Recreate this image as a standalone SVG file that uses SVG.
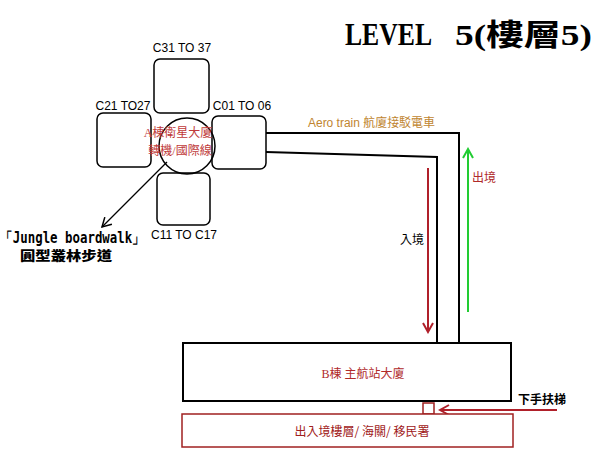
<svg xmlns="http://www.w3.org/2000/svg" width="600" height="450" viewBox="0 0 600 450">
<style>
.gate{fill:#fff;stroke:#000;stroke-width:1.5}
.lbl{font-family:"Liberation Sans",Arial,sans-serif;font-size:12px;fill:#000}
.cjk{font-family:"Liberation Serif","Noto Sans CJK TC",serif}
.line{fill:none;stroke:#000;stroke-width:2}
</style>
<defs>
<marker id="ablk" markerWidth="12" markerHeight="12" refX="10" refY="6" orient="auto" markerUnits="userSpaceOnUse"><path d="M1,1 L10,6 L1,11" fill="none" stroke="#000" stroke-width="1.5"/></marker>
<marker id="ared" markerWidth="12" markerHeight="12" refX="10" refY="6" orient="auto" markerUnits="userSpaceOnUse"><path d="M1,1 L10,6 L1,11" fill="none" stroke="#b0202a" stroke-width="2"/></marker>
<marker id="agrn" markerWidth="12" markerHeight="12" refX="10" refY="6" orient="auto" markerUnits="userSpaceOnUse"><path d="M1,1 L10,6 L1,11" fill="none" stroke="#22cc33" stroke-width="2"/></marker>
</defs>
<rect width="600" height="450" fill="#fff"/>

<g id="title">
<text x="345" y="45" font-family="Liberation Serif,serif" font-weight="bold" font-size="32" textLength="87" lengthAdjust="spacingAndGlyphs">LEVEL</text>
<text x="455" y="45" font-family="Liberation Serif,'Noto Sans CJK TC',serif" font-weight="bold" font-size="30" textLength="137" lengthAdjust="spacingAndGlyphs">5(樓層5)</text>
</g>

<g id="connectors">
<path class="line" d="M266,133 H459 V343"/>
<path class="line" d="M266,152 L437,157 V343"/>
<line x1="167" y1="162" x2="102" y2="227" stroke="#000" stroke-width="1.3" marker-end="url(#ablk)"/>
<line x1="428" y1="168" x2="428" y2="332" stroke="#b0202a" stroke-width="2" marker-end="url(#ared)"/>
<line x1="468" y1="312" x2="468" y2="149" stroke="#22cc33" stroke-width="2" marker-end="url(#agrn)"/>
<line x1="557" y1="410" x2="440" y2="410" stroke="#b0202a" stroke-width="2" marker-end="url(#ared)"/>
</g>

<g id="gateC31">
<rect class="gate" x="154" y="59" width="55" height="54" rx="6"/>
<text class="lbl" x="182" y="52" text-anchor="middle">C31 TO 37</text>
</g>
<g id="gateC21">
<rect class="gate" x="97" y="113" width="54" height="54" rx="6"/>
<text class="lbl" x="123" y="110" text-anchor="middle">C21 TO27</text>
</g>
<g id="gateC01">
<rect class="gate" x="212" y="116" width="54" height="53" rx="6"/>
<text class="lbl" x="242" y="110" text-anchor="middle">C01 TO 06</text>
</g>
<g id="gateC11">
<rect class="gate" x="157" y="173" width="53" height="52" rx="6"/>
<text class="lbl" x="184" y="239" text-anchor="middle">C11 TO C17</text>
</g>
<g id="hubA">
<circle cx="187" cy="146" r="28" fill="none" stroke="#000" stroke-width="1.5"/>
<text class="cjk" x="178" y="137" font-size="12" fill="#c03a3a" text-anchor="middle">A棟衛星大廈</text>
<text class="cjk" x="180" y="155" font-size="12" fill="#c03a3a" text-anchor="middle">轉機/國際線</text>
</g>

<g id="jungle">
<text transform="translate(0,243) scale(1,1.25)" x="0" y="0" font-family="'DejaVu Sans Mono',monospace" font-weight="bold" font-size="12" textLength="145" lengthAdjust="spacingAndGlyphs">「Jungle boardwalk」</text>
<text x="20" y="260" font-family="'Noto Sans CJK TC',sans-serif" font-weight="900" font-size="13" textLength="92" lengthAdjust="spacingAndGlyphs">圓型叢林步道</text>
</g>

<g id="aerotrain">
<text x="308" y="127" font-family="'Liberation Sans','Noto Sans CJK TC',sans-serif" font-size="12" fill="#c08530" textLength="127" lengthAdjust="spacingAndGlyphs">Aero train 航廈接駁電車</text>
</g>
<g id="arrival"><text x="400" y="244" font-family="'Noto Sans CJK TC',sans-serif" font-size="12" fill="#000">入境</text></g>
<g id="departure"><text x="472" y="182" font-family="'Noto Sans CJK TC',sans-serif" font-size="12" fill="#b02a2a">出境</text></g>

<g id="buildingB">
<rect x="183" y="343" width="328" height="58" fill="#fff" stroke="#000" stroke-width="2"/>
<text x="363" y="378" font-family="'Liberation Serif','Noto Sans CJK TC',serif" font-size="12" fill="#b02a2a" text-anchor="middle">B棟 主航站大廈</text>
</g>
<g id="escalator">
<rect x="423" y="403" width="11" height="11" fill="#fff" stroke="#a02020" stroke-width="1.5"/>
<text x="518" y="404" font-family="'Noto Sans CJK TC',sans-serif" font-weight="bold" font-size="12" fill="#000">下手扶梯</text>
</g>
<g id="immigration">
<rect x="182" y="414" width="331" height="33" fill="#fff" stroke="#a02020" stroke-width="1.5"/>
<text x="362" y="436" font-family="'Noto Sans CJK TC',sans-serif" font-size="12" fill="#a02020" text-anchor="middle">出入境樓層/ 海關/ 移民署</text>
</g>
</svg>
